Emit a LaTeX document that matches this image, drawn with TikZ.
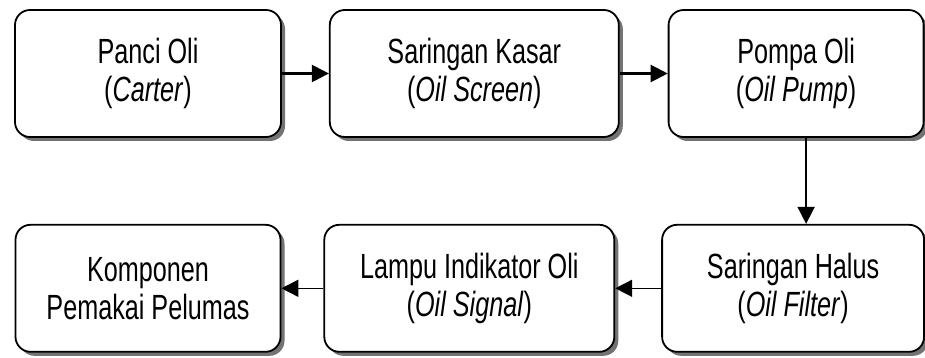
\documentclass[tikz,border=0pt]{standalone}
\usepackage{fontspec}
\setmainfont[FakeStretch=0.72]{Liberation Sans}
\usetikzlibrary{positioning, arrows.meta, shadows}
\tikzset{
x=1pt, y=1pt, % one unit is one pixel of the reference
>={Triangle[length=17pt, width=17pt]}, % filled triangle heads
node distance=46pt, % gap between two boxes
blok/.style={draw, line width=1.8pt, fill=white, rounded corners=15pt,
  minimum height=127pt, align=center,
  font=\fontsize{35}{38}\selectfont,
  drop shadow={shadow xshift=4pt, shadow yshift=-4pt, fill=black!55, opacity=1}}, % the boxes
alur/.style={->, line width=1.5pt}, % the arrows between boxes
}

\begin{document}
\begin{tikzpicture}
    \useasboundingbox (0,0) rectangle (925,-358);
    % top row
    \node[blok, minimum width=266pt] (carter) at (148,-73.5) {Panci Oli\\(\textit{Carter})};
    \node[blok, minimum width=289pt, right=47pt of carter] (screen) {Saringan Kasar\\(\textit{Oil Screen})};
    \node[blok, minimum width=255pt, right=48pt of screen] (pump) {Pompa Oli\\(\textit{Oil Pump})};
    % bottom row
    \node[blok, minimum width=265pt, below=86pt of carter] (pemakai) {Komponen\\Pemakai Pelumas};
    \node[blok, minimum width=290pt, right=42pt of pemakai] (signal) {Lampu Indikator Oli\\(\textit{Oil Signal})};
    \node[blok, minimum width=262pt, right=46pt of signal] (filter) {Saringan Halus\\(\textit{Oil Filter})};
    % arrows
    \draw[alur, line width=2.2pt] (carter) -- (screen);
    \draw[alur, line width=2.2pt] (screen) -- (pump);
    \draw[alur] ([xshift=10pt]pump.south) -- ([xshift=10pt]pump.south |- filter.north);
    \draw[alur] (filter) -- (signal);
    \draw[alur] (signal) -- (pemakai);
\end{tikzpicture}
\end{document}
